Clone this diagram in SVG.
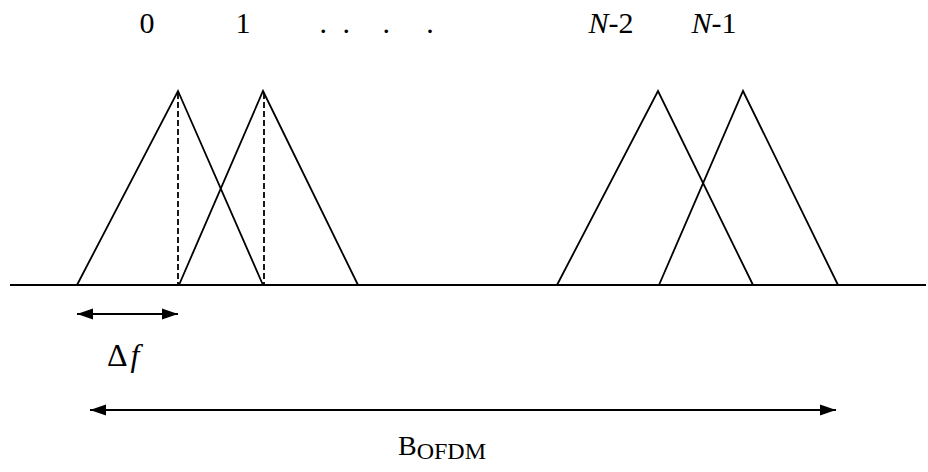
<svg xmlns="http://www.w3.org/2000/svg" width="928" height="472" viewBox="0 0 928 472">
<style>
.tri{fill:none;stroke:#000;stroke-width:1.8}
.dash{stroke:#000;stroke-width:1.8;stroke-dasharray:6 3}
.base{stroke:#000;stroke-width:2}
.arr{stroke:#000;stroke-width:2;marker-start:url(#ah);marker-end:url(#ah)}
</style>
<defs>
<marker id="ah" markerUnits="userSpaceOnUse" markerWidth="17" markerHeight="12" refX="16" refY="5.5" orient="auto-start-reverse" viewBox="0 0 17 11">
<path d="M0,0 L16,5.5 L0,11 Z" fill="#000"/>
</marker>
</defs>
<g id="labels" font-family="Liberation Serif, Times New Roman, serif" font-size="30" fill="#000" text-anchor="middle">
<text x="147" y="33">0</text>
<text x="243" y="33">1</text>
<text x="327" y="33"><tspan x="327">.</tspan> <tspan x="350">.</tspan> <tspan x="390">.</tspan> <tspan x="430">.</tspan></text>
<text x="611" y="33"><tspan font-style="italic">N</tspan>-2</text>
<text x="714" y="33"><tspan font-style="italic">N</tspan>-1</text>
</g>
<g id="subcarrier-0"><polyline class="tri" points="77,285 178,91 263,285"/></g>
<g id="subcarrier-1"><polyline class="tri" points="179,285 263,91 358,285"/></g>
<g id="subcarrier-N-2"><polyline class="tri" points="557,285 658,91 753,285"/></g>
<g id="subcarrier-N-1"><polyline class="tri" points="659,285 743,91 838,285"/></g>
<g id="connectors">
<line class="base" x1="10" y1="285" x2="926" y2="285"/>
<line class="dash" x1="178" y1="93" x2="178" y2="285"/>
<line class="dash" x1="264" y1="93" x2="264" y2="285"/>
<line class="arr" x1="77" y1="314" x2="178" y2="314"/>
<line class="arr" x1="90" y1="410" x2="836" y2="410"/>
</g>
<g id="delta-f" font-family="Liberation Serif, Times New Roman, serif" font-size="32" fill="#000"><text x="107" y="366">Δ<tspan font-style="italic" dx="3">f</tspan></text></g>
<g id="bandwidth" font-family="Liberation Serif, Times New Roman, serif" font-size="28" fill="#000"><text x="398" y="455">B<tspan font-size="24" dy="4">OFDM</tspan></text></g>
</svg>
